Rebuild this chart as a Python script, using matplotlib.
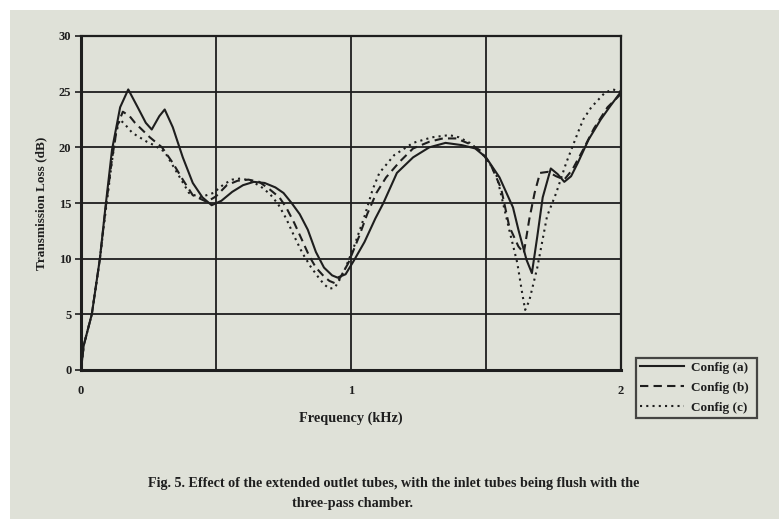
import matplotlib
matplotlib.use("Agg")
import matplotlib.pyplot as plt
from matplotlib.patches import Rectangle

# Transmission loss (frequency in kHz, TL in dB)
freq_a = [0.0, 0.01, 0.04, 0.07, 0.09, 0.115, 0.145, 0.175, 0.21, 0.24, 0.262,
          0.29, 0.31, 0.34, 0.377, 0.414, 0.45, 0.484, 0.52, 0.56, 0.60, 0.64,
          0.68, 0.72, 0.75, 0.78, 0.81, 0.84, 0.87, 0.90, 0.93, 0.95, 0.98,
          1.01, 1.05, 1.09, 1.12, 1.17, 1.23, 1.29, 1.35, 1.41, 1.46, 1.50,
          1.55, 1.60, 1.62, 1.65, 1.67, 1.69, 1.71, 1.74, 1.765, 1.79, 1.815,
          1.84, 1.88, 1.925, 1.96, 2.0]
tl_a = [0.0, 2.2, 5.0, 10.0, 14.5, 19.8, 23.6, 25.2, 23.6, 22.2, 21.6,
        22.8, 23.4, 21.8, 19.1, 16.8, 15.5, 14.8, 15.2, 16.0, 16.6, 16.9,
        16.8, 16.4, 15.9, 15.0, 14.0, 12.6, 10.6, 9.2, 8.5, 8.3, 8.6,
        9.8, 11.5, 13.6, 15.0, 17.7, 19.1, 20.0, 20.4, 20.2, 19.9, 19.1,
        17.3, 14.6, 12.6, 9.9, 8.7, 12.0, 15.5, 18.1, 17.6, 16.9, 17.4,
        18.6, 20.7, 22.5, 23.7, 25.0]

freq_b = [0.0, 0.01, 0.04, 0.07, 0.09, 0.115, 0.135, 0.155, 0.18, 0.2, 0.255,
          0.30, 0.34, 0.377, 0.414, 0.466, 0.50, 0.54, 0.58, 0.62, 0.66, 0.70,
          0.735, 0.76, 0.79, 0.82, 0.846, 0.87, 0.90, 0.92, 0.94, 0.96, 0.99,
          1.03, 1.06, 1.094, 1.13, 1.18, 1.23, 1.29, 1.34, 1.39, 1.44, 1.48,
          1.52, 1.556, 1.586, 1.62, 1.64, 1.66, 1.68, 1.70, 1.73, 1.76, 1.79,
          1.82, 1.86, 1.90, 1.95, 2.0]
tl_b = [0.0, 2.2, 5.0, 10.0, 14.3, 19.0, 22.0, 23.2, 22.8, 22.2, 20.9,
        20.0, 18.6, 17.1, 15.7, 15.1, 15.6, 16.6, 17.0, 17.1, 16.9, 16.2,
        15.5, 14.6, 13.2, 11.6, 10.2, 9.2, 8.4, 8.0, 7.8, 8.3, 9.6,
        12.0, 14.0, 15.9, 17.3, 18.7, 19.9, 20.5, 20.8, 20.8, 20.3, 19.7,
        18.3, 16.3, 12.9, 11.1, 10.5, 13.5, 15.9, 17.7, 17.8, 17.4, 17.1,
        18.0, 19.8, 21.7, 23.6, 24.8]

freq_c = [0.0, 0.01, 0.04, 0.07, 0.09, 0.115, 0.13, 0.144, 0.165, 0.19, 0.244,
          0.27, 0.31, 0.366, 0.40, 0.44, 0.49, 0.53, 0.56, 0.59, 0.63, 0.67,
          0.70, 0.73, 0.76, 0.79, 0.82, 0.85, 0.88, 0.90, 0.92, 0.94, 0.97,
          1.01, 1.05, 1.08, 1.105, 1.16, 1.23, 1.30, 1.364, 1.40, 1.44, 1.48,
          1.51, 1.54, 1.586, 1.616, 1.634, 1.645, 1.66, 1.69, 1.726, 1.76,
          1.797, 1.84, 1.86, 1.89, 1.94, 1.97, 2.0]
tl_c = [0.0, 2.2, 5.0, 10.0, 14.0, 18.8, 21.3, 22.5, 22.0, 21.3, 20.5,
        20.2, 19.6, 17.3, 15.9, 15.5, 15.9, 16.7, 17.1, 17.2, 17.0, 16.4,
        15.8, 14.9, 13.6, 12.0, 10.5, 9.3, 8.3, 7.7, 7.3, 7.4, 8.6,
        11.0, 13.8, 16.2, 17.7, 19.3, 20.4, 20.9, 21.1, 20.9, 20.4, 19.6,
        18.7, 17.4, 12.6, 9.6, 6.9, 5.4, 6.2, 9.2, 13.8, 15.9,
        18.6, 21.3, 22.5, 23.6, 24.9, 25.2, 25.0]

series = [
    (freq_a, tl_a, "-", "Config (a)"),
    (freq_b, tl_b, (0, (4, 2.5)), "Config (b)"),
    (freq_c, tl_c, (0, (1, 2)), "Config (c)"),
]
x_ticks = [0, 1, 2]
y_ticks = [0, 5, 10, 15, 20, 25, 30]

page = "#dfe1d8"
ink = "#1e1e1e"
serif = ["Liberation Serif", "DejaVu Serif"]

fig = plt.figure(figsize=(7.79, 5.19), dpi=100, facecolor="white")
fig.patches.append(Rectangle((10 / 779, 0), 1, 1 - 10 / 519, transform=fig.transFigure,
                             facecolor=page, edgecolor="none", zorder=-10))

ax = fig.add_axes([81 / 779, 1 - 370 / 519, 540 / 779, 334 / 519])
ax.set_facecolor(page)

handles = []
for fx, ty, ls, lab in series:
    (h,) = ax.plot(fx, ty, color=ink, lw=1.5, linestyle=ls, label=lab)
    handles.append(h)

ax.set_xlim(0, 2)
ax.set_ylim(0, 30)
ax.set_xticks(x_ticks)
ax.set_xticks([0.5, 1.5], minor=True)
ax.set_yticks(y_ticks)
ax.set_xticklabels([str(t) for t in x_ticks], fontfamily=serif, fontweight="bold",
                   fontsize=9, color=ink)
ax.set_yticklabels([str(t) for t in y_ticks], fontfamily=serif, fontweight="bold",
                   fontsize=9, color=ink)
ax.tick_params(axis="y", length=4, width=1.2, color=ink, pad=3)
ax.tick_params(axis="x", which="both", length=0, pad=11)
ax.grid(True, which="both", color=ink, lw=1.3)
ax.set_axisbelow(True)
for s in ax.spines.values():
    s.set_color(ink)
    s.set_linewidth(1.6)
ax.spines["bottom"].set_linewidth(2.2)
ax.spines["left"].set_linewidth(2.2)

ax.set_xlabel("Frequency (kHz)", fontfamily=serif, fontweight="bold", fontsize=10.3,
              color=ink, labelpad=10)
ax.set_ylabel("Transmission Loss (dB)", fontfamily=serif, fontweight="bold",
              fontsize=9.5, color=ink, labelpad=8)

leg = fig.legend(handles=handles, loc="lower left",
                 bbox_to_anchor=(636 / 779, 1 - 418 / 519, 121 / 779, 63 / 519),
                 mode="expand", frameon=True, fancybox=False, borderaxespad=0,
                 handlelength=3.3, handletextpad=0.6, labelspacing=0.6, borderpad=0.3,
                 prop={"family": serif, "weight": "bold", "size": 9.5})
leg.get_frame().set_edgecolor(ink)
leg.get_frame().set_linewidth(1.6)
leg.get_frame().set_facecolor(page)
for t in leg.get_texts():
    t.set_color(ink)

fig.text(394 / 779, 1 - 483 / 519,
         "Fig. 5. Effect of the extended outlet tubes, with the inlet tubes being flush with the",
         ha="center", va="center", fontfamily=serif, fontweight="bold", fontsize=10.2,
         color=ink)
fig.text(352 / 779, 1 - 503 / 519, "three-pass chamber.", ha="center", va="center",
         fontfamily=serif, fontweight="bold", fontsize=10.2, color=ink)

fig.savefig("out.png", dpi=100, facecolor=fig.get_facecolor())
